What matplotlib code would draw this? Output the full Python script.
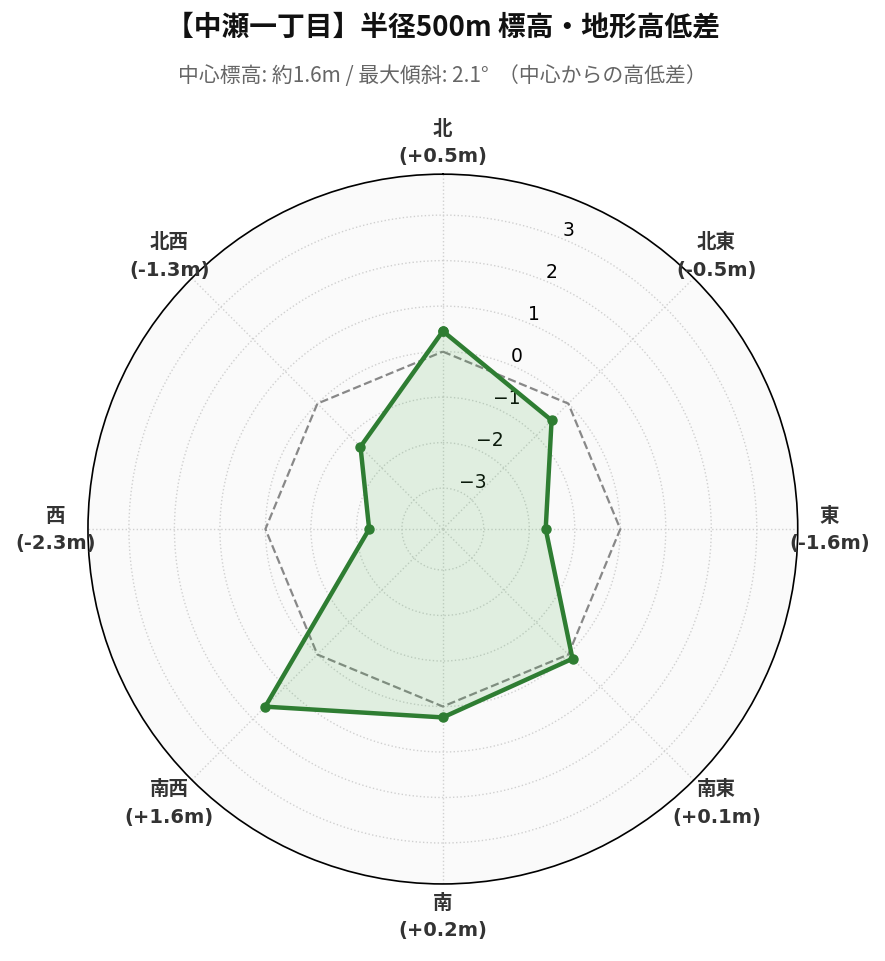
import numpy as np
import matplotlib.pyplot as plt

plt.rcParams['font.family'] = ['Noto Sans CJK JP', 'DejaVu Sans']

directions = ["北", "北東", "東", "南東", "南", "南西", "西", "北西"]
diffs = [0.45, -0.52, -1.64, 0.13, 0.24, 1.62, -2.28, -1.34]
rticks = [-3, -2, -1, 0, 1, 2, 3]

title = "【中瀬一丁目】半径500m 標高・地形高低差"
subtitle = "中心標高: 約1.6m / 最大傾斜: 2.1°  （中心からの高低差）"

angles = np.deg2rad(np.arange(len(directions)) * 45)
a_closed = np.append(angles, angles[0])
d_closed = np.append(diffs, diffs[0])

fig = plt.figure(figsize=(8.85, 9.62), dpi=100)
ax = fig.add_axes([0.0994, 0.080, 0.802, 0.738], projection='polar')
ax.set_theta_zero_location('N')
ax.set_theta_direction(-1)
ax.set_facecolor('#fafafa')

# zero line
ax.plot(a_closed, np.zeros_like(a_closed), color='#888888', ls='--', lw=1.6, zorder=2)

ax.plot(a_closed, d_closed, color='#2e7d32', lw=3.2, marker='o', ms=6.5, zorder=4)
ax.fill(a_closed, d_closed, color='#4caf50', alpha=0.15, zorder=3)

rmin, rmax = -3.9, 3.9
ax.set_ylim(rmin, rmax)
ax.set_yticks(rticks)
ax.set_yticklabels([f"{t}".replace('-', '\u2212') for t in rticks],
                   fontsize=13.5, family=['DejaVu Sans'])
ax.set_rlabel_position(22.5)

# direction labels, centred a little outside the rim
ax.set_xticks(angles)
ax.set_xticklabels([])
for a, d, v in zip(angles, directions, diffs):
    ax.text(a, rmax + 0.7, f"{d}\n({v:+.1f}m)", ha='center', va='center',
            fontsize=14, fontweight='bold', color='#333333', linespacing=1.55,
            family=['DejaVu Sans', 'Noto Sans CJK JP'], clip_on=False)

ax.grid(True, color='#d0d0d0', ls=':', lw=1)
ax.spines['polar'].set_color('black')
ax.spines['polar'].set_linewidth(1.2)

fig.text(0.5, 1 - 27 / 962, title, ha='center', va='center',
         fontsize=20, fontweight='bold', color='#111111')
fig.text(0.5, 1 - 76 / 962, subtitle, ha='center', va='center',
         fontsize=15, color='#666666')

fig.savefig('out.png', dpi=100)
